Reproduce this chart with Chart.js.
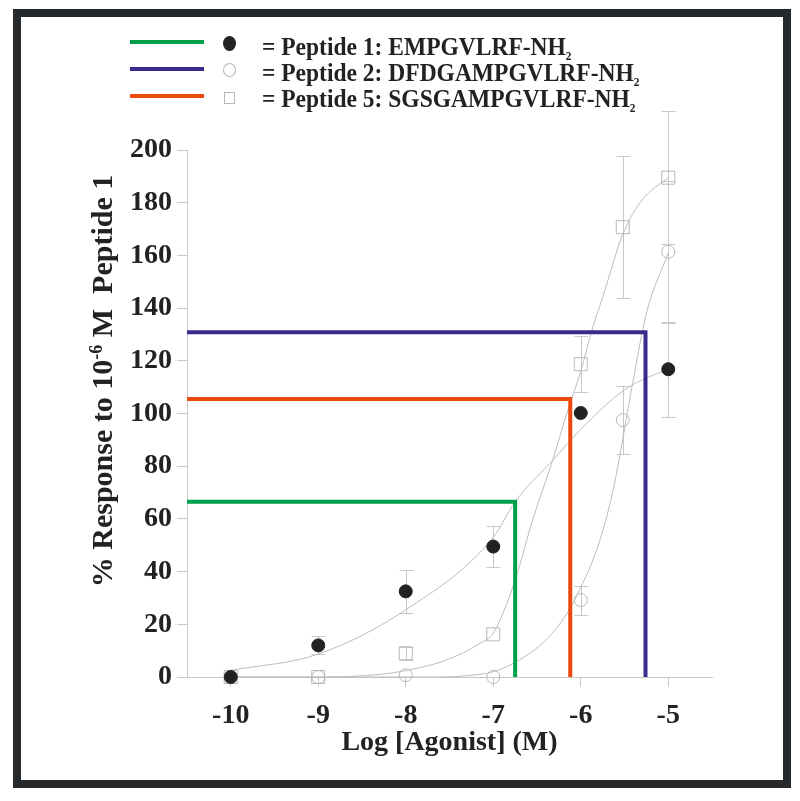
<!DOCTYPE html>
<html>
<head>
<meta charset="utf-8">
<script src="https://cdn.jsdelivr.net/npm/chart.js@4.4.1/dist/chart.umd.min.js"></script>
<style>
  body { margin: 0; background: #fff; }
  #wrap { position: relative; width: 800px; height: 801px; font-family: 'Liberation Serif', 'Times New Roman', serif; color: #222; }
  #frame { position: absolute; left: 13px; top: 9px; width: 778px; height: 779px; border: 8px solid #25292c; box-sizing: border-box; }
  #chart { position: absolute; left: 0; top: 0; }
  .leg-line { position: absolute; left: 130px; width: 74px; height: 4px; }
  .leg-mark { position: absolute; box-sizing: border-box; }
  .leg-text { position: absolute; left: 262px; font-size: 25px; line-height: 25px; font-weight: bold; white-space: nowrap; transform: scaleX(0.94); transform-origin: left center; }
  .leg-text span { font-size: 12px; position: relative; top: 5px; }
  #ytitle { position: absolute; left: -123px; top: 363px; width: 450px; height: 36px; line-height: 36px; text-align: center; font-size: 30px; font-weight: bold; white-space: nowrap; transform: rotate(-90deg); }
  #ytitle sup { font-size: 18px; position: relative; top: -10px; vertical-align: baseline; }
</style>
</head>
<body>
<div id="wrap">
  <div id="frame"></div>
  <canvas id="chart" width="800" height="801"></canvas>

  <div class="leg-line" style="top:40px;background:#00a04b"></div>
  <div class="leg-mark" style="left:223px;top:36px;width:13px;height:15px;border-radius:50%;background:#222"></div>
  <div class="leg-text" style="top:34px">= Peptide 1: EMPGVLRF-NH<span>2</span></div>

  <div class="leg-line" style="top:67px;background:#3b2a8c"></div>
  <div class="leg-mark" style="left:223px;top:63px;width:13px;height:14px;border-radius:50%;border:1px solid #b8b8b8"></div>
  <div class="leg-text" style="top:60px">= Peptide 2: DFDGAMPGVLRF-NH<span>2</span></div>

  <div class="leg-line" style="top:94px;background:#ec4a0c"></div>
  <div class="leg-mark" style="left:224px;top:92px;width:11px;height:12px;border:1px solid #b8b8b8"></div>
  <div class="leg-text" style="top:86px">= Peptide 5: SGSGAMPGVLRF-NH<span>2</span></div>

  <div id="ytitle">% Response to 10<sup>-6</sup>&nbsp;M&nbsp; Peptide 1</div>
</div>

<script>
// axis ticks
const xTicks = [-10, -9, -8, -7, -6, -5];
const yTicks = [0, 20, 40, 60, 80, 100, 120, 140, 160, 180, 200];
const xMin = -10.5;
const xMax = -4.5;

// measured responses (mean, +/- error)
const doseP1 = [-10, -9, -8, -7, -6, -5];
const respP1 = [0, 12, 32.5, 49.5, 100.2, 116.8];
const errP1 = [0, 3.4, 8.2, 7.7, 0, 18];

const doseP2 = [-10, -9, -8, -7, -6, -5.52, -5];
const respP2 = [0, 0, 0.7, 0, 29.2, 97.5, 161.4];
const errP2 = [0, 0, 0, 0, 5.5, 13, 27];

const doseP5 = [-10, -9, -8, -7, -6, -5.52, -5];
const respP5 = [0, 0, 9, 16.2, 118.7, 170.7, 189.5];
const errP5 = [0, 0, 2.5, 0, 10.7, 27, 25.3];

// fitted curves
const fitX1 = [-10, -9, -8, -7, -6.75, -6.3, -6, -5.5, -5];
const fitY1 = [2.5, 8.7, 25.5, 53, 66.5, 83, 94, 109, 117];
const fitX2 = [-10, -7.6, -7.3, -7, -6.7, -6.4, -6.16, -6, -5.8, -5.63, -5.4, -5.25, -5];
const fitY2 = [0, 0, 0.5, 2, 6.5, 14, 24, 34, 50, 71, 112.7, 138, 161];
const fitX5 = [-10, -8.9, -8.3, -7.96, -7.53, -7.15, -7, -6.75, -6.55, -6.32, -6.16, -6, -5.86, -5.75, -5.52, -5.3, -5];
const fitY5 = [0, 0, 1, 2.7, 6.5, 12.8, 16.6, 36.8, 59.6, 82.4, 100, 116, 133, 144, 168, 181, 189.5];

// EC50 markers: log dose and response level
const ec50Log = [-6.75, -5.26, -6.12];
const ec50Level = [66.5, 130.8, 105.5];
const ec50Colors = ['#00a04b', '#3b2a8c', '#ec4a0c'];

const serif = "'Liberation Serif', 'Times New Roman', serif";
const axisGray = '#c8c8c8';
const pointGray = '#b8b8b8';

function pairs(xs, ys) {
  return xs.map((x, i) => ({ x: x, y: ys[i] }))
}

const errorSeries = [
  { dose: doseP1, resp: respP1, err: errP1 },
  { dose: doseP2, resp: respP2, err: errP2 },
  { dose: doseP5, resp: respP5, err: errP5 }
];

const errorBars = {
  id: 'errorBars',
  beforeDatasetsDraw(chart) {
    const ctx = chart.ctx;
    const xs = chart.scales.x;
    const ys = chart.scales.y;
    ctx.save();
    ctx.strokeStyle = axisGray;
    ctx.lineWidth = 1;
    errorSeries.forEach((s) => {
      s.dose.forEach((d, i) => {
        if (!s.err[i]) return;
        const x = Math.round(xs.getPixelForValue(d)) + 0.5;
        const top = Math.round(ys.getPixelForValue(s.resp[i] + s.err[i])) + 0.5;
        const bot = Math.round(ys.getPixelForValue(s.resp[i] - s.err[i])) + 0.5;
        ctx.beginPath();
        ctx.moveTo(x, top); ctx.lineTo(x, bot);
        ctx.moveTo(x - 7, top); ctx.lineTo(x + 7, top);
        ctx.moveTo(x - 7, bot); ctx.lineTo(x + 7, bot);
        ctx.stroke();
      })
    })
    ctx.restore();
  }
};

const datasets = [
  {
    label: 'Peptide 1', data: pairs(doseP1, respP1), order: 0,
    pointStyle: 'circle', pointRadius: 6.5, backgroundColor: '#222', borderColor: '#222', borderWidth: 1
  },
  {
    label: 'Peptide 2', data: pairs(doseP2, respP2), order: 1,
    pointStyle: 'circle', pointRadius: 6.5, backgroundColor: 'rgba(0,0,0,0)', borderColor: pointGray, borderWidth: 1
  },
  {
    label: 'Peptide 5', data: pairs(doseP5, respP5), order: 2,
    pointStyle: 'rect', pointRadius: 9.2, backgroundColor: 'rgba(0,0,0,0)', borderColor: pointGray, borderWidth: 1
  }
];

ec50Log.forEach((lx, i) => {
  datasets.push({
    label: 'EC50 ' + (i + 1),
    data: [{ x: xMin, y: ec50Level[i] }, { x: lx, y: ec50Level[i] }, { x: lx, y: 0 }],
    showLine: true, borderColor: ec50Colors[i], borderWidth: 4, pointRadius: 0,
    borderJoinStyle: 'miter', order: 5
  })
});

[[fitX1, fitY1], [fitX2, fitY2], [fitX5, fitY5]].forEach(([fx, fy], i) => {
  datasets.push({
    label: 'fit ' + (i + 1),
    data: pairs(fx, fy),
    showLine: true, borderColor: '#bdbdbd', borderWidth: 1, pointRadius: 0,
    cubicInterpolationMode: 'monotone', order: 10
  })
});

datasets.forEach((d) => { d.clip = false });

new Chart(document.getElementById('chart'), {
  type: 'scatter',
  data: { datasets: datasets },
  plugins: [errorBars],
  options: {
    responsive: false,
    animation: false,
    devicePixelRatio: 1,
    layout: { padding: { top: 150, right: 88, left: 0, bottom: 0 } },
    plugins: { legend: { display: false }, tooltip: { enabled: false } },
    scales: {
      x: {
        type: 'linear', min: xMin, max: xMax,
        afterFit: (scale) => { scale.height = 124 },
        afterBuildTicks: (scale) => { scale.ticks = xTicks.map(v => ({ value: v })) },
        border: { color: axisGray, width: 1 },
        grid: { drawOnChartArea: false, color: axisGray, tickLength: 10 },
        ticks: { color: '#222', padding: 12, font: { family: serif, size: 28, weight: 'bold' } },
        title: {
          display: true, text: 'Log [Agonist] (M)', color: '#222',
          font: { family: serif, size: 28, weight: 'bold' },
          padding: { top: 41, bottom: 41 }
        }
      },
      y: {
        type: 'linear', min: 0, max: 200,
        afterFit: (scale) => { scale.width = 187 },
        afterBuildTicks: (scale) => { scale.ticks = yTicks.map(v => ({ value: v })) },
        border: { color: axisGray, width: 1 },
        grid: { drawOnChartArea: false, color: axisGray, tickLength: 10 },
        ticks: { color: '#222', padding: 5, font: { family: serif, size: 28, weight: 'bold' } }
      }
    }
  }
});
</script>
</body>
</html>
